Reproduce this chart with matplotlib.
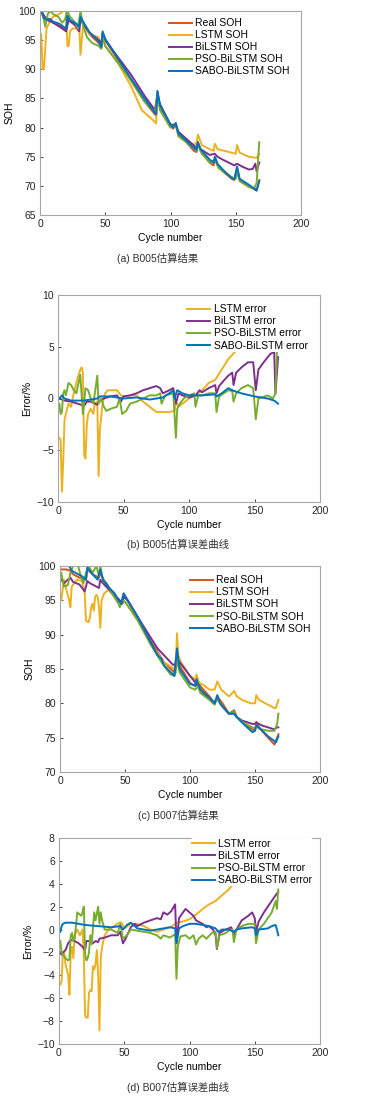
import matplotlib
matplotlib.use("Agg")
import matplotlib.pyplot as plt

# ---------------- DATA ----------------
# (a) B005 SOH
a_real_x = [1, 3, 5, 8, 10, 15, 18, 20, 21, 23, 28, 30, 31, 33, 38, 45, 47, 48, 50, 60, 70, 80, 88, 89, 90, 92, 100, 102, 104, 106, 110, 118, 120, 121, 123, 130, 133, 134, 136, 140, 147, 149, 151, 153, 160, 165, 166, 168]
a_real_y = [100, 99, 98.8, 98.5, 98, 97.5, 97, 96.8, 98.8, 98.2, 97.5, 97, 98.8, 98, 96, 94.5, 93.8, 96.3, 95, 91.5, 88, 84.5, 82.3, 82, 86, 83.5, 80.5, 79.8, 80.7, 79, 78, 76, 75.8, 77.5, 76, 74, 73.5, 74.8, 73.5, 72.5, 71.2, 71, 73.2, 71, 70, 69.3, 69.2, 71]
a_lstm_x = [1, 2, 3, 5, 8, 10, 15, 18, 20, 21, 22, 23, 25, 28, 30, 31, 33, 38, 45, 47, 48, 50, 60, 70, 78, 83, 88, 89, 90, 92, 100, 104, 106, 112, 118, 120, 121, 124, 130, 133, 134, 136, 145, 150, 151, 153, 160, 166, 168]
a_lstm_y = [96, 90, 90, 97, 98.5, 99, 99.5, 100, 100, 94, 94, 96.5, 97, 97, 98, 92.5, 97.5, 96, 95.5, 94, 95.5, 94, 91, 87, 83, 82, 81, 80.7, 86, 83, 80, 80.5, 79, 78, 77, 77.5, 78.8, 77, 76.3, 76, 77.2, 76.3, 75.8, 75.5, 77, 75.7, 75, 74.8, 75.5]
a_bilstm_x = [1, 5, 10, 17, 20, 22, 27, 30, 31, 33, 38, 45, 47, 48, 50, 60, 70, 80, 88, 90, 92, 100, 104, 106, 110, 120, 121, 123, 130, 134, 136, 140, 149, 151, 155, 160, 163, 165, 166, 168]
a_bilstm_y = [100, 98.5, 98, 97, 96.5, 98.5, 97.5, 96.5, 98.5, 97.8, 96.3, 95, 94.5, 96, 95, 92, 89, 85.5, 83, 85.5, 84, 80.5, 80.5, 79.3, 78.5, 76.5, 77.3, 76.3, 75.3, 75.5, 75, 74.5, 73.5, 73.8, 73.3, 72.8, 72.9, 73.8, 72.5, 74]
a_pso_x = [1, 3, 4, 6, 8, 10, 14, 17, 19, 21, 23, 27, 29, 31, 33, 36, 40, 45, 47, 48, 50, 60, 70, 80, 88, 90, 92, 100, 104, 106, 112, 120, 121, 124, 130, 134, 137, 147, 150, 151, 153, 160, 164, 166, 168]
a_pso_y = [100, 98.5, 97.3, 99.5, 100, 99.5, 99, 98, 98.5, 100, 99, 98, 97, 100, 97.5, 95.5, 94.5, 94, 93.5, 95.5, 94, 91, 88, 84.5, 82.5, 86, 83, 80, 80.5, 78.5, 77.5, 76, 77.2, 75.5, 74, 74.5, 73, 71.5, 71.2, 72.5, 70.8, 69.8, 69.5, 70.5, 77.5]
a_sabo_x = [1, 3, 5, 8, 10, 15, 18, 20, 21, 23, 28, 30, 31, 33, 38, 45, 47, 48, 50, 60, 70, 80, 88, 89, 90, 92, 100, 102, 104, 106, 110, 118, 120, 121, 123, 130, 133, 134, 136, 140, 147, 149, 151, 153, 160, 165, 166, 168]
a_sabo_y = [100, 98.8, 98.5, 98.6, 98.2, 97.8, 97.3, 97, 99.2, 98.4, 97.8, 97.3, 99, 98.2, 96.3, 94.8, 93.8, 96.5, 95.2, 91.8, 88.3, 85, 82.5, 82.3, 86.3, 83.8, 80.5, 80, 80.8, 79, 78.2, 76.5, 76.2, 77.5, 76.3, 74.5, 74, 75, 73.8, 72.8, 71.3, 71.2, 73.3, 71.2, 70.2, 69.4, 69.2, 70.8]

# (b) B005 error (%)
b_lstm_x = [1, 2, 3, 4, 5, 7, 8, 10, 12, 15, 17, 18, 19, 20, 21, 22, 23, 25, 27, 28, 30, 31, 32, 34, 36, 38, 45, 48, 50, 55, 60, 65, 70, 75, 80, 85, 89, 90, 92, 95, 100, 105, 110, 115, 120, 125, 130, 135, 138, 145, 160, 168]
b_lstm_y = [-3.8, -4, -9, -6, -2, -1, -0.5, -0.8, 0.5, 2, 2.8, 3, 2.5, -5.5, -5.8, -2.5, -1.5, -1, -1.5, -0.5, -0.3, -7.5, -3, -0.5, 0.5, 0.8, 0.8, 0.3, 0.2, 0.3, 0.3, -0.3, -0.8, -1.3, -1.3, -1.3, -1.2, -0.3, -0.8, -0.5, 0, 0.3, 0.8, 1.5, 1.8, 2.8, 3.8, 4.5, 5, 6, 7, 7.5]
b_bilstm_x = [1, 5, 10, 15, 20, 22, 25, 30, 31, 35, 40, 45, 48, 50, 55, 60, 65, 70, 75, 78, 80, 85, 88, 90, 92, 95, 100, 105, 108, 110, 115, 120, 121, 123, 127, 130, 133, 134, 136, 140, 145, 149, 151, 153, 157, 162, 165, 166, 168]
b_bilstm_y = [0, -0.2, -0.3, -0.5, -0.7, -0.3, -0.3, -0.6, -0.3, 0, 0.2, 0.3, -0.3, 0.2, 0.3, 0.5, 0.8, 1, 1.2, 1, 0.5, 0.8, 1, -0.5, 0.5, 0.3, 0.1, 0.3, 0.8, 0.6, 1, 1.3, 0.5, 1.2, 1.8, 2.2, 2.5, 1.3, 2.5, 3, 3.5, 3.5, 0.8, 2.8, 3.5, 4.3, 4.5, 0.5, 4]
b_pso_x = [1, 2, 3, 4, 5, 6, 8, 10, 12, 14, 17, 19, 20, 21, 23, 25, 27, 30, 31, 33, 35, 37, 40, 45, 47, 49, 52, 55, 60, 65, 70, 75, 78, 79, 82, 88, 90, 91, 93, 96, 100, 104, 105, 107, 110, 115, 120, 121, 123, 130, 133, 134, 136, 140, 145, 149, 151, 153, 160, 164, 166, 168]
b_pso_y = [-0.5, -1.5, -1.3, 0.5, 0.8, 0.3, 1.5, 1.3, 0.8, 0.5, 2.3, -1.5, -0.3, 1, 0.8, 0, -0.5, 2.2, -0.5, 0, -0.8, -1.2, -1, -0.8, 0, -1.5, -1.2, -0.5, -0.3, 0, 0.3, 0.3, 0.5, -0.5, 0.3, 0.5, -3.8, -1, -0.5, 0, 0.3, 0.5, -0.8, 0.3, 0.3, 0.5, 0.5, -1.3, 0.2, 0.8, 0.7, -0.3, 0.5, 1, 1.3, 1, -2, 0, 0.3, 0, 0.5, 8]
b_sabo_x = [1, 3, 5, 10, 20, 30, 32, 40, 50, 60, 70, 80, 85, 88, 89, 91, 95, 100, 110, 120, 121, 125, 130, 133, 135, 140, 150, 160, 165, 168]
b_sabo_y = [0, 0.3, 0, -0.2, -0.2, 0, 0.2, 0.2, 0, 0.1, -0.1, 0.1, 0.5, 0.8, 0, 0.8, 0.5, 0.3, 0.3, 0.4, 0.2, 0.5, 1, 0.8, 0.7, 0.5, 0.2, 0, -0.2, -0.5]

# (c) B007 SOH
c_real_x = [1, 5, 8, 10, 15, 20, 21, 25, 30, 31, 35, 40, 45, 47, 49, 52, 60, 70, 80, 88, 90, 92, 100, 104, 105, 108, 115, 119, 121, 125, 130, 134, 136, 140, 148, 150, 151, 153, 160, 165, 166, 168]
c_real_y = [99.5, 99.5, 99.3, 98.8, 98.3, 98, 99.5, 98.8, 98.3, 99, 97.5, 96, 95, 94.5, 96, 95, 92.5, 89, 86, 84.5, 88, 85.5, 83, 82.5, 83.5, 82.5, 81, 80, 81, 80, 78.5, 79, 78, 77.3, 76.2, 76, 77.3, 76.5, 75, 74, 74.5, 75.5]
c_lstm_x = [1, 2, 3, 5, 7, 8, 9, 11, 13, 17, 19, 20, 22, 23, 24, 25, 26, 27, 28, 29, 30, 31, 32, 34, 37, 40, 45, 48, 50, 55, 60, 70, 80, 88, 89, 90, 91, 93, 100, 104, 105, 107, 110, 115, 119, 121, 124, 130, 134, 136, 140, 147, 150, 151, 153, 160, 165, 166, 168]
c_lstm_y = [95, 96.5, 98, 96.5, 95, 94, 97, 97.5, 98, 97.8, 96, 92, 91.8, 92.5, 94, 94.5, 93.5, 95.5, 95.8, 95.5, 94, 91, 95, 96, 96.5, 96, 95, 94.8, 94.8, 93.5, 92, 88.5, 86, 85, 85, 90.2, 87, 86, 84, 83.5, 84.2, 83, 82.7, 82, 82, 83.2, 82, 81, 81.8, 81, 80.5, 80, 80, 81.2, 80.5, 79.8, 79.3, 79.3, 80.5]
c_bilstm_x = [1, 3, 6, 8, 10, 15, 19, 21, 23, 28, 30, 31, 33, 38, 45, 48, 49, 52, 60, 70, 75, 80, 87, 89, 90, 92, 100, 105, 110, 118, 121, 125, 130, 134, 136, 140, 148, 150, 151, 155, 160, 165, 167, 168]
c_bilstm_y = [98, 97.5, 98, 98.3, 97.7, 97.3, 96.3, 97.8, 97.5, 97, 96.8, 98, 97.5, 96.5, 95.2, 94.5, 95.5, 95, 92.5, 89.5, 88, 87, 85.6, 85.7, 86.5, 86, 84, 82.8, 81.5, 80, 80.7, 79.5, 78.5, 78.5, 78, 77.5, 77, 77, 77.2, 76.8, 76.5, 76.2, 76.5, 76.5]
c_pso_x = [1, 3, 6, 8, 10, 14, 16, 18, 20, 22, 25, 28, 30, 31, 33, 36, 40, 45, 46, 48, 50, 60, 70, 78, 85, 88, 89, 90, 92, 100, 104, 106, 108, 115, 119, 121, 125, 130, 134, 136, 140, 148, 150, 151, 153, 160, 165, 167, 168]
c_pso_y = [99, 97, 97.2, 99, 100, 100, 98.5, 97.5, 99, 100, 99, 100, 98.5, 100, 98, 97.5, 96, 94.5, 94, 95, 94.8, 92, 88.5, 86, 84.2, 84, 84.5, 86.5, 84.5, 82.3, 82, 82.5, 81.5, 80.5, 79.8, 80.8, 79.5, 78.5, 78.8, 78, 77.3, 76.5, 76.3, 76.8, 76.3, 76, 76, 77, 78.5]
c_sabo_x = [1, 3, 7, 9, 12, 17, 20, 21, 25, 29, 31, 33, 37, 42, 45, 47, 49, 52, 60, 70, 75, 78, 80, 88, 90, 92, 100, 104, 105, 108, 115, 119, 121, 123, 130, 134, 136, 140, 148, 150, 151, 153, 160, 165, 166, 168]
c_sabo_y = [100, 100.3, 100, 99.3, 99, 98.5, 98, 99.8, 98.8, 98, 99.5, 98, 97, 96, 95, 94.5, 96, 95, 92.5, 88.8, 87, 86.5, 85.5, 84, 88, 85, 82.8, 82.6, 83.5, 82, 80.8, 80, 81.2, 80, 78.5, 78.5, 78, 77.2, 75.8, 76, 76.8, 76.5, 75.2, 74.5, 74.3, 75.2]

# (d) B007 error (%)
d_lstm_x = [1, 2, 3, 4, 5, 7, 8, 9, 10, 11, 12, 14, 16, 18, 19, 20, 21, 22, 23, 24, 25, 26, 27, 28, 29, 30, 31, 32, 33, 35, 38, 42, 46, 48, 50, 55, 60, 65, 70, 75, 80, 85, 88, 90, 95, 100, 105, 110, 115, 120, 125, 130, 135, 140, 150, 160, 168]
d_lstm_y = [-4.8, -4.5, -2, -2, -3, -4, -5.7, -2, -1.5, -2.5, -0.5, 0, -0.5, 0, -2.2, -7.5, -7.7, -7.7, -5.5, -5.3, -5.4, -3.2, -3.5, -3, -1.8, -4, -8.8, -2.5, -1.5, -0.5, 0, 0.3, 0.6, 0.6, 0.1, 0.5, 0.5, 0.3, 0, -0.2, 0, 0.2, 0.4, 0.6, 0.7, 0.9, 1.3, 1.8, 2.2, 2.5, 3, 3.5, 4.2, 4.8, 5.5, 6, 7.5]
d_bilstm_x = [1, 2, 3, 5, 7, 9, 12, 15, 18, 20, 21, 23, 26, 28, 30, 31, 35, 40, 45, 47, 49, 51, 55, 58, 60, 65, 70, 75, 78, 80, 83, 86, 89, 90, 92, 95, 97, 100, 103, 105, 110, 113, 115, 118, 120, 121, 123, 126, 130, 132, 134, 136, 140, 145, 148, 150, 151, 153, 157, 160, 163, 166, 168]
d_bilstm_y = [-2, -2.2, -2, -1.8, -1.2, -0.9, -1, -1.2, -1.5, -1.8, -1, -1, -1.2, -1, -1.1, -0.8, -0.7, -0.5, -0.5, -0.2, -1.2, -0.8, 0.2, 0.5, 0.3, 0.6, 0.8, 1, 0.9, 1.5, 1.3, 1.6, 2.2, -1.2, 1, 1.5, 1.8, 1.5, 1.2, 0.8, 0.5, 0.2, 0.3, 0, -0.5, -1.7, -0.3, -0.1, 0.1, 0.2, -0.5, 0, 0.8, 1.2, 1.5, 1, -0.2, 0.7, 1.5, 2, 2.5, 3, 3.3]
d_pso_x = [1, 2, 3, 5, 7, 8, 9, 10, 11, 12, 14, 17, 18, 19, 20, 21, 22, 23, 24, 25, 27, 28, 30, 31, 32, 33, 35, 40, 45, 47, 49, 52, 55, 60, 65, 70, 75, 78, 80, 85, 89, 90, 91, 93, 97, 100, 103, 105, 107, 110, 113, 117, 120, 121, 123, 128, 131, 133, 134, 136, 140, 145, 148, 150, 151, 153, 157, 160, 163, 166, 167, 168]
d_pso_y = [-1, -2, -2.2, -2.5, -2.7, -2.6, -0.5, -0.3, -1, -0.8, 1.5, 1.2, 1.5, 2, -2.2, -2.7, -2.5, -2, -0.5, -1.3, 1.5, 0.8, 2, 0.5, 1.5, 0.8, 0, 0, -0.3, 0.5, -0.8, -0.5, 0, -0.1, -0.2, -0.3, -0.5, -0.8, -0.5, -0.7, -0.4, -4.3, -1.5, -0.6, -0.5, -0.8, -0.5, -1.3, -0.8, -0.5, -0.8, -0.3, -0.2, -1.6, -0.5, -0.3, 0, 0, -1.1, 0, 0.3, 0.5, 0.5, 0.5, -1.2, 0, 0.5, 1, 1.5, 2.5, 1.8, 3.5]
d_sabo_x = [1, 2, 3, 5, 10, 15, 20, 30, 40, 47, 49, 52, 55, 58, 60, 70, 80, 85, 89, 90, 92, 95, 100, 105, 110, 115, 120, 122, 125, 130, 134, 136, 140, 148, 150, 151, 153, 160, 163, 166, 167, 168]
d_sabo_y = [-0.2, 0.3, 0.5, 0.6, 0.6, 0.5, 0.4, 0.3, 0.2, 0.3, 0, 0.4, 0.6, 0.3, 0.1, -0.1, 0.1, 0.2, 0.1, -1.2, 0.1, 0.3, 0.5, 0.5, 0.4, 0.3, 0.1, -0.2, 0, 0, -0.2, 0, 0.1, 0.2, 0.1, -0.5, 0, 0.1, 0.3, 0.4, 0, -0.5]

soh_labels = ["Real SOH", "LSTM SOH", "BiLSTM SOH", "PSO-BiLSTM SOH", "SABO-BiLSTM SOH"]
err_labels = ["LSTM error", "BiLSTM error", "PSO-BiLSTM error", "SABO-BiLSTM error"]
captions = ["(a) B005估算结果", "(b) B005估算误差曲线", "(c) B007估算结果", "(d) B007估算误差曲线"]
x_ticks = [0, 50, 100, 150, 200]

# ---------------- STYLE ----------------
plt.rcParams['font.family'] = ['Liberation Sans', 'Noto Sans CJK SC', 'DejaVu Sans']
C_REAL = "#D95319"
C_LSTM = "#EDB120"
C_BI = "#7E2F8E"
C_PSO = "#77AC30"
C_SABO = "#0072BD"
LW = 1.4
FS = 7.5

W, H = 391, 1109
fig = plt.figure(figsize=(W / 100, H / 100), dpi=100)


def add_ax(x0, x1, y0, y1):
    return fig.add_axes([x0 / W, 1 - y1 / H, (x1 - x0) / W, (y1 - y0) / H])


def style(ax, ylim, yticks, ylabel):
    ax.set_xlim(0, 200)
    ax.set_ylim(*ylim)
    ax.set_xticks(x_ticks)
    ax.set_yticks(yticks)
    ax.set_yticklabels([str(t).replace('-', '\u2212') for t in yticks])
    ax.tick_params(direction='in', length=2.5, width=0.6, labelsize=FS, colors='#262626', pad=3)
    for s in ax.spines.values():
        s.set_color('#a6a6a6')
        s.set_linewidth(0.8)
    ax.set_xlabel("Cycle number", fontsize=FS, labelpad=3)
    ax.set_ylabel(ylabel, fontsize=FS, labelpad=3)


def legend(ax, anchor):
    leg = ax.legend(loc='upper left', bbox_to_anchor=anchor, fontsize=FS, frameon=True,
                    facecolor='white', edgecolor='none', framealpha=1.0, borderpad=0.1,
                    labelspacing=0.2, handlelength=2.2, handletextpad=0.35, borderaxespad=0)
    leg.get_frame().set_linewidth(0)
    return leg


# (a)
ax = add_ax(40, 301, 11, 215)
ax.plot(a_real_x, a_real_y, color=C_REAL, lw=LW, label=soh_labels[0])
ax.plot(a_lstm_x, a_lstm_y, color=C_LSTM, lw=LW, label=soh_labels[1])
ax.plot(a_bilstm_x, a_bilstm_y, color=C_BI, lw=LW, label=soh_labels[2])
ax.plot(a_pso_x, a_pso_y, color=C_PSO, lw=LW, label=soh_labels[3])
ax.plot(a_sabo_x, a_sabo_y, color=C_SABO, lw=LW, label=soh_labels[4])
style(ax, (65, 100), [65, 70, 75, 80, 85, 90, 95, 100], "SOH")
legend(ax, (0.49, 0.97))

# (b)
ax = add_ax(58, 320, 295, 502)
ax.plot(b_lstm_x, b_lstm_y, color=C_LSTM, lw=LW, label=err_labels[0])
ax.plot(b_bilstm_x, b_bilstm_y, color=C_BI, lw=LW, label=err_labels[1])
ax.plot(b_pso_x, b_pso_y, color=C_PSO, lw=LW, label=err_labels[2])
ax.plot(b_sabo_x, b_sabo_y, color=C_SABO, lw=LW, label=err_labels[3])
style(ax, (-10, 10), [-10, -5, 0, 5, 10], "Error/%")
legend(ax, (0.49, 0.96))

# (c)
ax = add_ax(60, 320, 566, 772)
ax.plot(c_real_x, c_real_y, color=C_REAL, lw=LW, label=soh_labels[0])
ax.plot(c_lstm_x, c_lstm_y, color=C_LSTM, lw=LW, label=soh_labels[1])
ax.plot(c_bilstm_x, c_bilstm_y, color=C_BI, lw=LW, label=soh_labels[2])
ax.plot(c_pso_x, c_pso_y, color=C_PSO, lw=LW, label=soh_labels[3])
ax.plot(c_sabo_x, c_sabo_y, color=C_SABO, lw=LW, label=soh_labels[4])
style(ax, (70, 100), [70, 75, 80, 85, 90, 95, 100], "SOH")
legend(ax, (0.495, 0.96))

# (d)
ax = add_ax(59, 320, 838, 1044)
ax.plot(d_lstm_x, d_lstm_y, color=C_LSTM, lw=LW, label=err_labels[0])
ax.plot(d_bilstm_x, d_bilstm_y, color=C_BI, lw=LW, label=err_labels[1])
ax.plot(d_pso_x, d_pso_y, color=C_PSO, lw=LW, label=err_labels[2])
ax.plot(d_sabo_x, d_sabo_y, color=C_SABO, lw=LW, label=err_labels[3])
style(ax, (-10, 8), [-10, -8, -6, -4, -2, 0, 2, 4, 6, 8], "Error/%")
legend(ax, (0.505, 1.0))

# captions
for (cx, cy), txt in zip([(158, 258), (178, 544), (178, 815), (178, 1087)], captions):
    fig.text(cx / W, 1 - cy / H, txt, ha='center', va='center', fontsize=FS, color='#333333')

fig.savefig("out.png", dpi=100)
